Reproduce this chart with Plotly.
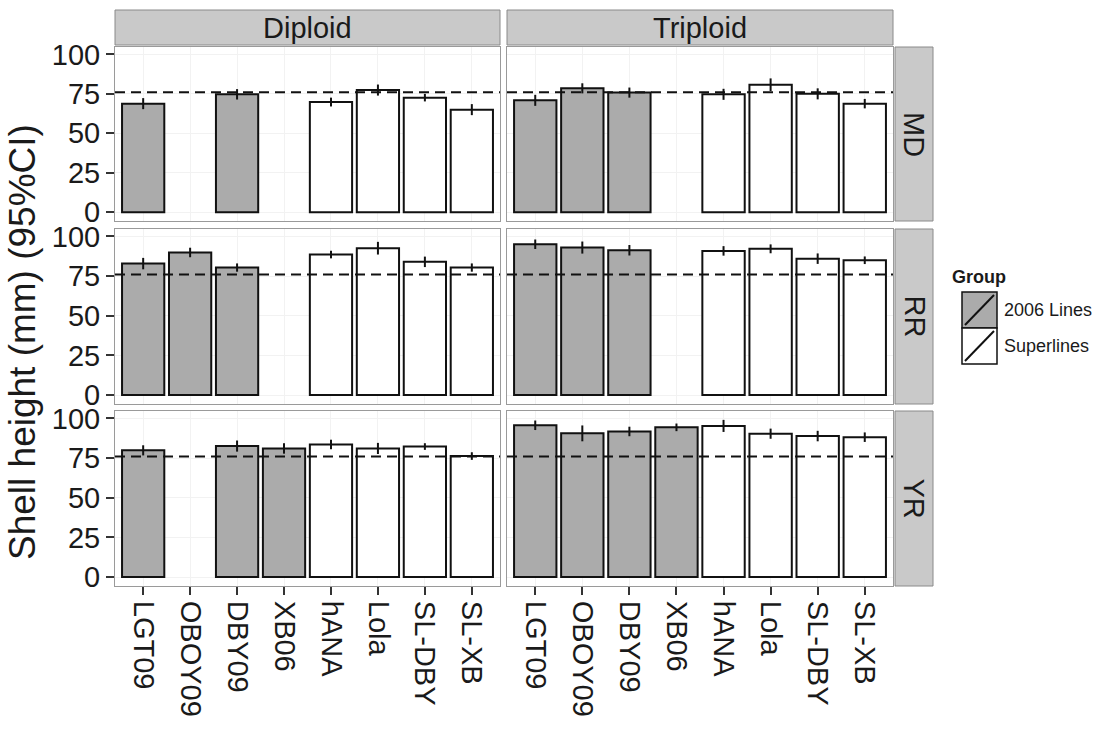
import plotly.graph_objects as go

categories = ["LGT09", "OBOY09", "DBY09", "XB06", "hANA", "Lola", "SL-DBY", "SL-XB"]
groups = ["2006 Lines", "2006 Lines", "2006 Lines", "2006 Lines",
          "Superlines", "Superlines", "Superlines", "Superlines"]
ploidies = ["Diploid", "Triploid"]
sites = ["MD", "RR", "YR"]

dip_MD = [68.8, None, 74.7, None, 69.8, 77.4, 72.6, 65.0]
dip_MD_ci = [3.5, None, 3.3, None, 2.8, 3.5, 2.4, 3.5]
trip_MD = [70.9, 78.5, 75.8, None, 74.7, 80.8, 75.0, 68.8]
trip_MD_ci = [3.5, 3.2, 3.2, None, 3.5, 4.0, 3.5, 3.0]
dip_RR = [82.9, 89.9, 80.4, None, 88.6, 92.6, 84.0, 80.4]
dip_RR_ci = [3.6, 3.0, 2.6, None, 2.4, 4.0, 3.3, 2.6]
trip_RR = [95.1, 93.0, 91.3, None, 90.9, 92.2, 86.0, 85.0]
trip_RR_ci = [3.0, 3.8, 3.3, None, 3.0, 2.8, 3.3, 2.4]
dip_YR = [79.9, None, 82.6, 81.1, 83.6, 81.1, 82.3, 76.3]
dip_YR_ci = [3.2, None, 3.5, 3.3, 3.0, 3.5, 2.1, 2.4]
trip_YR = [95.7, 90.6, 91.8, 94.4, 95.3, 90.4, 88.9, 88.2]
trip_YR_ci = [3.0, 5.0, 3.0, 2.4, 3.8, 3.2, 3.3, 3.0]

market_size = 76

data = {
    ("Diploid", "MD"): (dip_MD, dip_MD_ci),
    ("Triploid", "MD"): (trip_MD, trip_MD_ci),
    ("Diploid", "RR"): (dip_RR, dip_RR_ci),
    ("Triploid", "RR"): (trip_RR, trip_RR_ci),
    ("Diploid", "YR"): (dip_YR, dip_YR_ci),
    ("Triploid", "YR"): (trip_YR, trip_YR_ci),
}

group_colors = {"2006 Lines": "#ababab", "Superlines": "#ffffff"}

W, H = 1102, 731
FONT = "Liberation Sans, Arial, Helvetica, sans-serif"
TXT = "#1a1a1a"

def px_x(p):
    return p / W

def px_y(p):
    return 1 - p / H

col_dom = [[px_x(115), px_x(500)], [px_x(507), px_x(893)]]
row_px = [(47, 221), (229, 404), (411, 586)]
row_dom = [[px_y(b), px_y(t)] for t, b in row_px]

fig = go.Figure()
layout = {}
shapes = []
annotations = []

idx = 0
for r, site in enumerate(sites):
    for c, pl in enumerate(ploidies):
        idx += 1
        sfx = "" if idx == 1 else str(idx)
        xa, ya = "x" + sfx, "y" + sfx
        vals, cis = data[(pl, site)]
        for g in ["2006 Lines", "Superlines"]:
            xs = [cat for cat, gg in zip(categories, groups) if gg == g]
            ys = [v for v, gg in zip(vals, groups) if gg == g]
            es = [e for e, gg in zip(cis, groups) if gg == g]
            fig.add_trace(go.Bar(
                x=xs, y=ys, name=g, xaxis=xa, yaxis=ya, width=0.9,
                marker=dict(color=group_colors[g], line=dict(color="#111111", width=2)),
                error_y=dict(type="data", array=es, visible=True, color="#111111",
                             thickness=2, width=0),
                showlegend=False,
            ))
        # market-size reference line
        shapes.append(dict(type="line", xref=xa + " domain", yref=ya,
                           x0=0, x1=1, y0=market_size, y1=market_size,
                           line=dict(color="#111111", width=2, dash="10px,6px"),
                           layer="above"))
        layout["xaxis" + sfx] = dict(
            domain=col_dom[c], anchor=ya, type="category",
            categoryorder="array", categoryarray=categories,
            range=[-0.6, 7.6], showgrid=True, gridcolor="#f2f2f2",
            showline=True, linecolor="#9a9a9a", linewidth=1, mirror=True,
            zeroline=False, automargin=False,
            ticks="outside" if r == 2 else "", ticklen=8, tickwidth=1.5,
            tickcolor="#333333", showticklabels=(r == 2), tickangle=90,
            tickfont=dict(family=FONT, size=29, color=TXT),
        )
        layout["yaxis" + sfx] = dict(
            domain=row_dom[r], anchor=xa, range=[-5.6, 104.7],
            tickvals=[0, 25, 50, 75, 100], showgrid=True, gridcolor="#f2f2f2",
            showline=True, linecolor="#9a9a9a", linewidth=1, mirror=True,
            zeroline=False, automargin=False,
            ticks="outside" if c == 0 else "", ticklen=8, tickwidth=1.5,
            tickcolor="#333333", showticklabels=(c == 0),
            tickfont=dict(family=FONT, size=29, color=TXT),
        )

# facet strips (top)
for c, pl in enumerate(ploidies):
    shapes.append(dict(type="rect", xref="paper", yref="paper",
                       x0=col_dom[c][0], x1=col_dom[c][1], y0=px_y(45), y1=px_y(10),
                       fillcolor="#c9c9c9", line=dict(color="#8a8a8a", width=1)))
    annotations.append(dict(text=pl, xref="paper", yref="paper",
                            x=(col_dom[c][0] + col_dom[c][1]) / 2, y=px_y(27.5),
                            showarrow=False, xanchor="center", yanchor="middle",
                            font=dict(family=FONT, size=29, color=TXT)))
# facet strips (right)
for r, site in enumerate(sites):
    shapes.append(dict(type="rect", xref="paper", yref="paper",
                       x0=px_x(895), x1=px_x(933), y0=row_dom[r][0], y1=row_dom[r][1],
                       fillcolor="#c9c9c9", line=dict(color="#8a8a8a", width=1)))
    annotations.append(dict(text=site, xref="paper", yref="paper",
                            x=px_x(914), y=(row_dom[r][0] + row_dom[r][1]) / 2,
                            showarrow=False, textangle=90, xanchor="center", yanchor="middle",
                            font=dict(family=FONT, size=29, color=TXT)))

# y-axis title
annotations.append(dict(text="Shell height (mm) (95%CI)", xref="paper", yref="paper",
                        x=px_x(22), y=px_y(342), showarrow=False, textangle=-90,
                        xanchor="center", yanchor="middle",
                        font=dict(family=FONT, size=37, color=TXT)))

# legend (drawn)
annotations.append(dict(text="<b>Group</b>", xref="paper", yref="paper",
                        x=px_x(950), y=px_y(277), showarrow=False,
                        xanchor="left", yanchor="middle",
                        font=dict(family=FONT, size=18, color=TXT)))
leg_items = ["2006 Lines", "Superlines"]
for i, g in enumerate(leg_items):
    top = 292 + i * 36
    bot = top + 36
    shapes.append(dict(type="rect", xref="paper", yref="paper",
                       x0=px_x(962), x1=px_x(997), y0=px_y(bot), y1=px_y(top),
                       fillcolor=group_colors[g], line=dict(color="#111111", width=1.5)))
    shapes.append(dict(type="line", xref="paper", yref="paper",
                       x0=px_x(965), x1=px_x(994), y0=px_y(bot - 3), y1=px_y(top + 3),
                       line=dict(color="#111111", width=2)))
    annotations.append(dict(text=g, xref="paper", yref="paper",
                            x=px_x(1002), y=px_y((top + bot) / 2), showarrow=False,
                            xanchor="left", yanchor="middle",
                            font=dict(family=FONT, size=18, color=TXT)))

fig.update_layout(
    width=W, height=H, margin=dict(l=0, r=0, t=0, b=0, autoexpand=False),
    paper_bgcolor="white", plot_bgcolor="white",
    barmode="overlay", showlegend=False,
    shapes=shapes, annotations=annotations,
    font=dict(family=FONT, color=TXT),
    **layout,
)

fig.write_html("out.html")
